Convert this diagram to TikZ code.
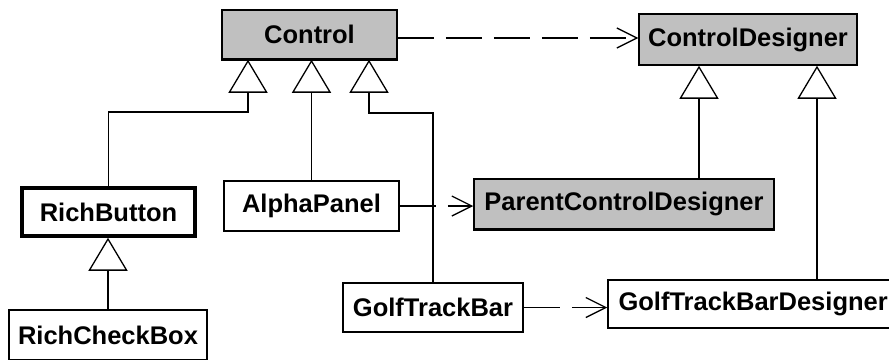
\documentclass[tikz,border=0pt]{standalone}
\usepackage{fontspec}
\setmainfont{Liberation Sans}
\usetikzlibrary{arrows.meta}
\definecolor{classgray}{RGB}{192,192,192}
\begin{document}
\begin{tikzpicture}[x=1pt,y=-1pt,
  cls/.style={draw, line width=1.5pt, inner sep=0pt, fill=white,
    font=\fontsize{25.5}{30}\selectfont\bfseries, text=black},
  shaded/.style={cls, fill=classgray},
  heavy/.style={cls, line width=3.5pt},
  inherit/.style={line width=1.3pt,
    -{Triangle[open,length=33pt,width=39pt,fill=white]}},
  depend/.style={line width=1.3pt, dash pattern=on 36pt off 12pt,
    -{Straight Barb[length=20pt,width=20pt]}}
]
\fill[white] (0,0) rectangle (889,359);
\useasboundingbox (0,0) rectangle (889,359);
\clip (0,0) rectangle (889,359);

% classes
\node[shaded, minimum width=175pt, minimum height=49pt] (ctrl) at (309.5,34.5) {Control};
\node[shaded, minimum width=218pt, minimum height=51pt] (cd) at (748,39.5) {ControlDesigner};
\node[heavy, minimum width=173pt, minimum height=48pt] (rb) at (108.5,212) {RichButton};
\node[cls, minimum width=175pt, minimum height=50pt] (ap) at (311.5,206) {AlphaPanel};
\node[shaded, minimum width=300pt, minimum height=50pt] (pcd) at (624,204) {ParentControlDesigner};
\node[cls, minimum width=180pt, minimum height=49pt] (gtb) at (433,307.5) {GolfTrackBar};
\node[cls, minimum width=291pt, minimum height=48pt, text width=270pt, align=left] (gtbd) at (753.5,304) {GolfTrackBarDesigner};
\node[cls, minimum width=198pt, minimum height=50pt] (rcb) at (108,335) {RichCheckBox};

% heavier bottom edges of the shaded classes
\draw[line width=3pt] (ctrl.south west) -- (ctrl.south east);
\draw[line width=3pt] (pcd.south west) -- (pcd.south east);

% bend points of the inheritance lines
\coordinate (b1) at (248,112);
\coordinate (b3) at (369,113);
\coordinate (g1) at (699,0);
\coordinate (g2) at (817,0);

% generalizations
\draw[inherit] (rb.north) |- (b1) -- (b1 |- ctrl.south);
\draw[inherit] (ap.north) -- (ap.north |- ctrl.south);
\draw[inherit] (gtb.north) |- (b3) -- (b3 |- ctrl.south);
\draw[inherit] (rcb.north) -- (rcb.north |- rb.south);
\draw[inherit] (pcd.north -| g1) -- (g1 |- cd.south);
\draw[inherit] (gtbd.north -| g2) -- (g2 |- cd.south);

% dependencies
\draw[depend] (ctrl.east |- 0,38) -- (cd.west |- 0,38);
\draw[depend] (ap.east) -- (ap.east -| pcd.west);
\draw[depend] (gtb.east) -- (gtb.east -| gtbd.west);
\end{tikzpicture}
\end{document}
